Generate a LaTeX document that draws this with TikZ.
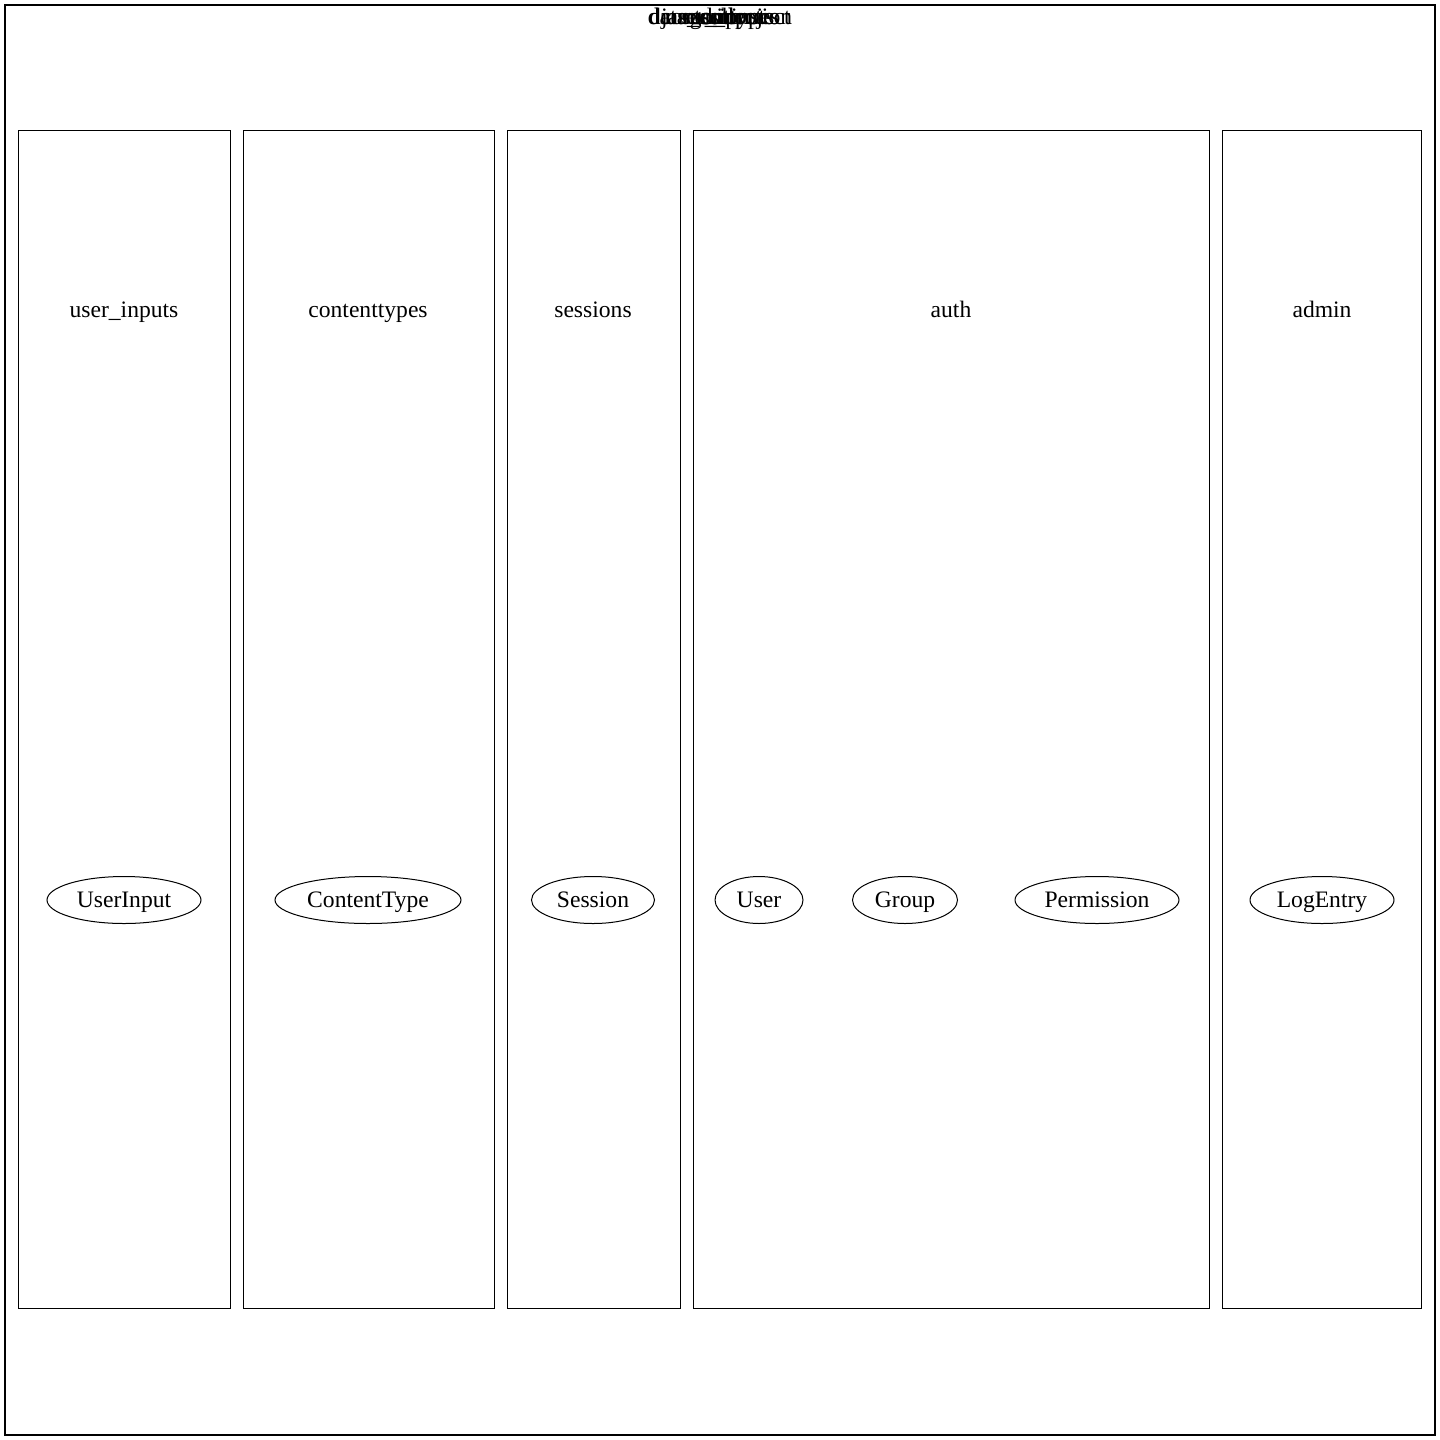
\documentclass[tikz,border=0pt]{standalone}
\usepackage{fontspec}
\setmainfont{Liberation Serif}
\usetikzlibrary{shapes.geometric}

\tikzset{
	appbox/.style={draw, line width=0.5pt},
	applabel/.style={font=\fontsize{11.8}{14}\selectfont, inner sep=0pt, text height=2ex, text depth=0.3ex},
	model/.style={draw, ellipse, line width=0.5pt, inner sep=0pt, minimum height=23.5pt, minimum width=#1, font=\fontsize{11.8}{14}\selectfont, text height=2ex, text depth=0.3ex},
}

\begin{document}
\begin{tikzpicture}[x=0.5pt, y=-0.5pt]
	\useasboundingbox (0,0) rectangle (1440,1440);
	\draw[line width=1pt] (5,5) rectangle (1435,1435);
	% overlapping cluster titles
	\foreach \t in {django\_project, data\_collection, contenttypes, sessions, user\_inputs, auth, admin}
		\node[applabel] at (720,17) {\t};
	% apps
	\draw[appbox] (18,130) rectangle (230,1308);
	\draw[appbox] (243,130) rectangle (494,1308);
	\draw[appbox] (507,130) rectangle (680,1308);
	\draw[appbox] (693,130) rectangle (1209,1308);
	\draw[appbox] (1222,130) rectangle (1421,1308);
	\node[applabel] (userinputs) at (124,310) {user\_inputs};
	\node[applabel] (contenttypes) at (368,310) {contenttypes};
	\node[applabel] (sessions) at (593,310) {sessions};
	\node[applabel] (auth) at (951,310) {auth};
	\node[applabel] (admin) at (1322,310) {admin};
	% models
	\node[model=77pt] (UserInput) at (124,900) {UserInput};
	\node[model=93pt] (ContentType) at (368,900) {ContentType};
	\node[model=61.5pt] (Session) at (593,900) {Session};
	\node[model=44pt] (User) at (759,900) {User};
	\node[model=52.5pt] (Group) at (905,900) {Group};
	\node[model=82pt] (Permission) at (1097,900) {Permission};
	\node[model=72pt] (LogEntry) at (1322,900) {LogEntry};
\end{tikzpicture}
\end{document}
